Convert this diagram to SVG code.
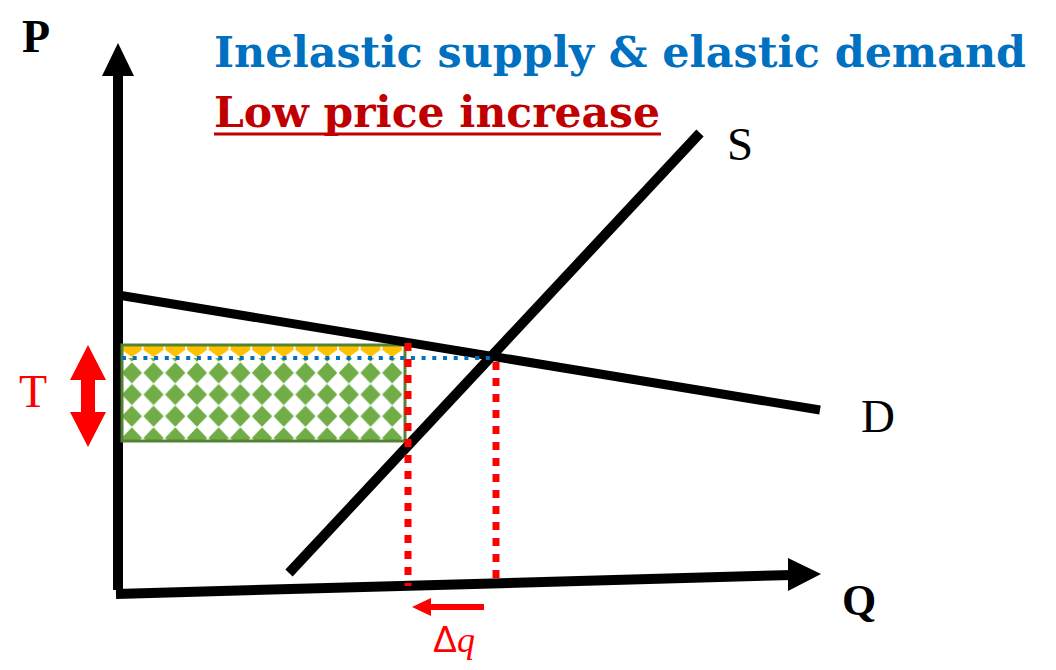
<svg xmlns="http://www.w3.org/2000/svg" width="1056" height="670" viewBox="0 0 1056 670">
<style>
.ax{stroke:#000;stroke-width:10;fill:none}
.ln{stroke:#000;stroke-width:9;fill:none}
.lbl{font-family:"Liberation Serif",serif;fill:#000}
.red{fill:#FF0000}
.rdot{stroke:#FF0000;stroke-width:7;stroke-dasharray:8 8;fill:none}
</style>
<defs>
<pattern id="diam" x="121" y="362" width="21.7" height="21.7" patternUnits="userSpaceOnUse">
<rect width="21.7" height="21.7" fill="#fff"/>
<path d="M10.85 0.3 L21 10.85 L10.85 21.4 L0.7 10.85 Z" fill="#70AD47"/>
</pattern>
<pattern id="yel" x="121" y="345" width="21.7" height="14" patternUnits="userSpaceOnUse">
<rect width="21.7" height="14" fill="#fff"/>
<path d="M1 1 H20.7 V5 L10.85 12 L1 5 Z" fill="#FFC000"/>
</pattern>
</defs>
<g id="axes">
<line class="ax" x1="118" y1="590" x2="118" y2="72"/>
<polygon points="118,43 134,76 102,76" fill="#000"/>
<line class="ax" x1="116" y1="594" x2="792" y2="575"/>
<polygon points="821,574 788,558 788,591" fill="#000"/>
</g>
<g id="tax-area">
<rect x="122" y="345" width="283" height="96" fill="url(#diam)"/>
<rect x="122" y="345" width="283" height="13" fill="url(#yel)"/>
<rect x="122" y="345" width="283" height="96" fill="none" stroke="#548235" stroke-width="3"/>
</g>
<g id="connectors">
<line class="ln" x1="118" y1="295" x2="820" y2="410"/>
<line class="ax" x1="289" y1="573" x2="700" y2="133"/>
<line x1="122" y1="358" x2="492" y2="358" stroke="#0070C0" stroke-width="4" stroke-dasharray="4 6.7"/>
<line class="rdot" x1="408" y1="343" x2="408" y2="586"/>
<line class="rdot" x1="496" y1="362" x2="496" y2="578"/>
</g>
<g id="T-arrow">
<polygon class="red" points="88,345 106,380 95,380 95,412 106,412 88,447 70,412 81,412 81,380 70,380"/>
<text x="33" y="407" class="lbl" font-size="46" style="fill:#FF0000" text-anchor="middle">T</text>
</g>
<g id="dq-arrow">
<line x1="484" y1="607" x2="428" y2="607" stroke="#FF0000" stroke-width="6"/>
<polygon class="red" points="412,607 431,598 431,616"/>
<text x="454" y="652" font-size="36" text-anchor="middle" class="red"><tspan font-family="Liberation Sans,sans-serif">Δ</tspan><tspan font-family="Liberation Serif,serif" font-style="italic">q</tspan></text>
</g>
<g id="labels">
<text x="22" y="52" class="lbl" font-size="46" font-weight="bold">P</text>
<text x="842" y="615" class="lbl" font-size="44" font-weight="bold">Q</text>
<text x="727" y="160" class="lbl" font-size="47">S</text>
<text x="861" y="432" class="lbl" font-size="47">D</text>
</g>
<g id="title">
<text x="214" y="67" font-family="DejaVu Serif,serif" font-weight="bold" font-size="43" fill="#0070C0" textLength="812" lengthAdjust="spacingAndGlyphs">Inelastic supply &amp; elastic demand</text>
<text x="214" y="127" font-family="DejaVu Serif,serif" font-weight="bold" font-size="43" fill="#C00000" textLength="446" lengthAdjust="spacingAndGlyphs">Low price increase</text>
<line x1="214" y1="134" x2="661" y2="134" stroke="#C00000" stroke-width="3"/>
</g>
</svg>
